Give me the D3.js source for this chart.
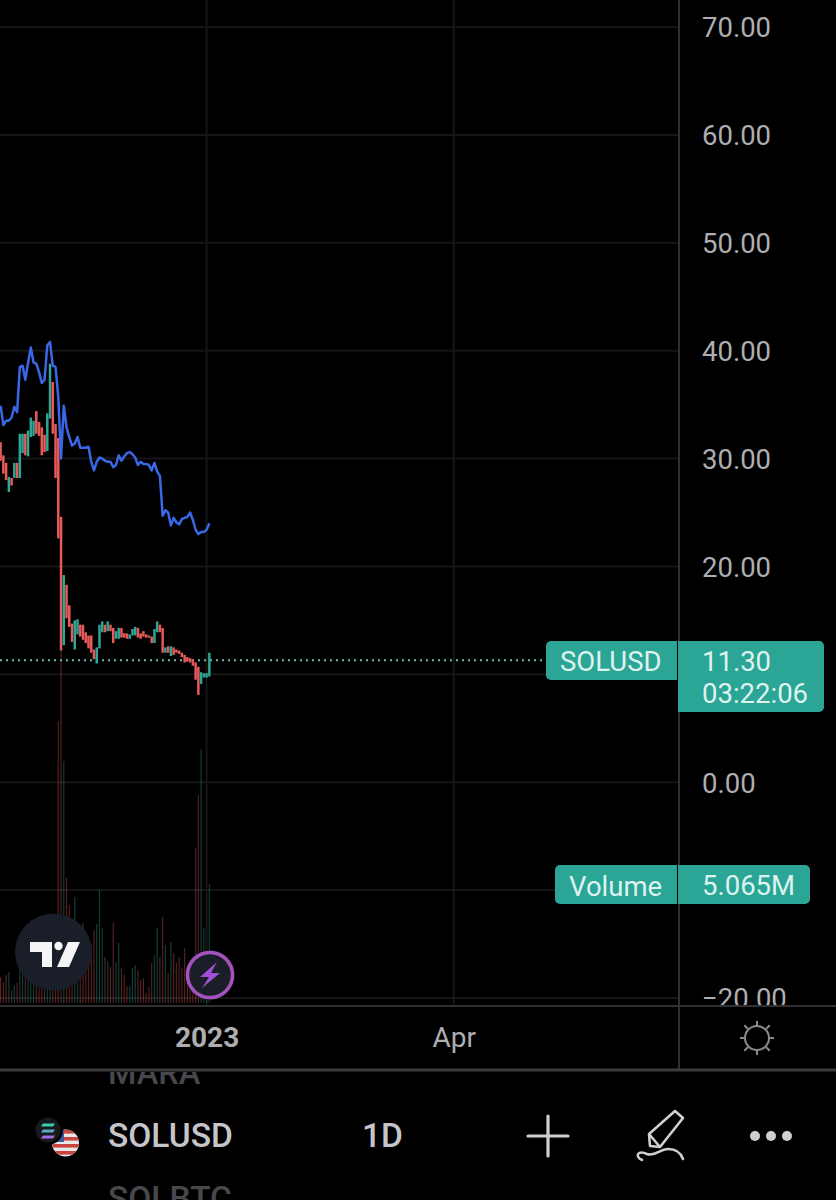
<!DOCTYPE html>
<html><head><meta charset="utf-8">
<script src="https://cdnjs.cloudflare.com/ajax/libs/d3/7.8.5/d3.min.js"></script>
<style>html,body{margin:0;padding:0;background:#000;overflow:hidden}svg{display:block}text{font-family:Roboto,sans-serif}</style>
</head><body>
<svg id="c" width="836" height="1200"></svg>
<script>
const firstDay = "2022-10-18";
const priceTicks = [70,60,50,40,30,20,10,0,-10,-20];
const priceLabels = ["70.00","60.00","50.00","40.00","30.00","20.00",null,"0.00",null,"\u221220.00"];
const timeTicks = ["2023-01-01","2023-04-01"];
const timeLabels = ["2023","Apr"];
const lastPrice = 11.30, lastVolume = 5.065;
const open = [31.5,30.3,29.6,26.9,28.2,28.2,29.6,28.2,30.5,32.3,30.2,32.0,32.1,34.4,33.4,32.9,32.2,30.7,33.7,37.1,33.2,31.9,24.6,
  12.7,18.3,16.4,14.7,12.3,13.7,14.6,14.6,13.9,13.6,13.6,12.3,11.0,12.4,13.9,14.6,14.0,14.6,14.3,13.3,13.3,14.3,13.8,13.8,13.3,13.6,13.6,14.3,13.8,14.0,13.7,13.6,13.5,12.9,13.9,14.6,14.3,12.0,12.6,11.7,12.5,12.3,12.2,12.0,11.8,11.6,11.5,11.4,11.1,10.7,9.1,9.7,9.7,9.8];
const close = [29.8,28.6,28.0,28.3,27.5,29.6,28.2,32.3,32.3,30.3,32.6,33.8,33.5,32.3,32.1,30.3,30.6,34.2,38.8,32.3,28.2,22.6,12.2,
  19.2,15.2,14.4,13.0,15.0,15.1,13.5,13.2,12.9,12.4,12.0,11.4,12.5,14.6,14.9,13.9,14.9,14.0,12.9,14.0,14.3,13.4,13.4,13.3,13.7,14.2,14.4,13.4,13.3,13.5,13.4,13.4,12.9,14.2,14.9,13.9,12.0,12.5,12.0,12.6,11.8,12.0,11.9,11.6,11.1,11.2,11.1,10.8,9.5,8.1,10.2,10.1,10.1,12.0];
const comparison = [34.9,33.1,33.5,33.5,33.8,34.8,34.3,38.5,38.6,37.3,38.9,40.3,38.9,38.8,38.0,37.0,37.3,40.5,40.8,38.6,38.5,35.7,30.0,34.9,32.9,32.0,31.2,31.4,32.0,31.0,31.0,31.0,31.1,29.7,28.9,29.7,30.1,30.0,29.8,29.7,29.7,29.2,29.4,30.3,29.8,30.2,30.5,30.6,30.4,30.1,29.4,29.7,29.5,29.5,29.4,28.9,29.6,28.8,28.4,24.7,25.2,25.0,23.8,24.5,24.1,23.9,24.4,24.5,24.6,25.0,24.3,23.4,23.0,23.2,23.2,23.4,24.0];
const volume = [1.11,.89,1.19,1.32,.55,.77,.85,1.53,1.40,1.19,1.19,.98,1.06,1.19,1.06,1.19,1.32,1.32,1.62,1.83,2.26,12.0,15.0,10.3,5.32,4.17,3.5,4.51,2.9,2.47,3.40,1.83,2.04,2.47,3.11,3.36,4.81,3.19,1.96,1.74,1.53,3.40,1.74,2.55,1.49,1.19,.72,.72,1.49,1.62,1.40,.98,1.06,.43,.68,1.70,2.04,3.19,1.96,3.66,2.47,1.28,2.60,2.13,1.70,1.96,1.49,2.34,1.53,.98,.68,6.60,8.85,10.81,3.19,.85,5.065];

const UP="#2fa596", DOWN="#e85a5a", TEAL="#2aa596", BLUE="#3a67e6", GRID="#161616", RULE="#303032", TXT="#aeaeb2";
const svg=d3.select("#c");
const parse=d3.utcParse("%Y-%m-%d");
const dates=d3.utcDays(parse(firstDay),d3.utcDay.offset(parse(firstDay),open.length));
const x=d3.scaleUtc().domain([parse(timeTicks[0]),parse(timeTicks[1])]).range([206.6,453.8]);
const y=d3.scaleLinear().domain([-20,70]).range([998,27]);
const v=d3.scaleLinear().domain([0,lastVolume]).range([1003,884]);
const defs=svg.append("defs");
defs.append("clipPath").attr("id","pane").append("rect").attr("width",679).attr("height",1005);
defs.append("clipPath").attr("id","axisClip").append("rect").attr("x",680).attr("width",156).attr("height",1005);
defs.append("clipPath").attr("id","listTop").append("rect").attr("y",1072).attr("width",836).attr("height",40);
defs.append("clipPath").attr("id","flag").append("circle").attr("cx",65.5).attr("cy",1143).attr("r",13.5);

const pane=svg.append("g").attr("clip-path","url(#pane)");
pane.append("g").selectAll("line").data(priceTicks).join("line")
  .attr("x1",0).attr("x2",679).attr("y1",d=>y(d)).attr("y2",d=>y(d)).attr("stroke",GRID).attr("stroke-width",2);
pane.append("g").selectAll("line").data(timeTicks).join("line")
  .attr("x1",d=>x(parse(d))).attr("x2",d=>x(parse(d))).attr("y1",0).attr("y2",1005).attr("stroke",GRID).attr("stroke-width",2);

const idx=d3.range(open.length);
pane.append("g").selectAll("line").data(idx).join("line")
  .attr("x1",i=>x(dates[i])).attr("x2",i=>x(dates[i]))
  .attr("y1",i=>v(volume[i])).attr("y2",v(0))
  .attr("stroke",i=>close[i]>=open[i]?UP:DOWN).attr("stroke-opacity",.36).attr("stroke-width",1.2);

pane.append("line").attr("x1",0).attr("x2",546).attr("y1",y(lastPrice)).attr("y2",y(lastPrice))
  .attr("stroke","#6dbdb0").attr("stroke-width",2).attr("stroke-dasharray","2 4");

pane.append("g").selectAll("line").data(idx).join("line")
  .attr("x1",i=>x(dates[i])).attr("x2",i=>x(dates[i]))
  .attr("y1",i=>y(open[i])).attr("y2",i=>y(close[i]))
  .attr("stroke",i=>close[i]>=open[i]?UP:DOWN).attr("stroke-width",2.5);

pane.append("path").attr("d",d3.line().x((d,i)=>x(dates[i])).y(d=>y(d))(comparison))
  .attr("fill","none").attr("stroke",BLUE).attr("stroke-width",2.5).attr("stroke-linejoin","round");

// frame rules
const rules=svg.append("g").attr("stroke",RULE);
rules.append("line").attr("x1",679).attr("x2",679).attr("y1",0).attr("y2",1070).attr("stroke-width",2);
rules.append("line").attr("x1",0).attr("x2",836).attr("y1",1006).attr("y2",1006).attr("stroke-width",2);
rules.append("line").attr("x1",0).attr("x2",836).attr("y1",1070).attr("y2",1070).attr("stroke-width",3).attr("stroke","#3c3c40");

// axes
const labelOf=d3.scaleOrdinal(priceTicks,priceLabels);
const ay=svg.append("g").attr("clip-path","url(#axisClip)")
  .append("g").attr("transform","translate(702,1)")
  .call(d3.axisRight(y).tickValues(priceTicks.filter((d,i)=>priceLabels[i])).tickSize(0).tickPadding(0).tickFormat(d=>labelOf(d)));
ay.select(".domain").remove();
ay.selectAll("text").attr("fill",TXT).attr("font-size",27.5).attr("font-family","Roboto");
const tLab=d3.scaleOrdinal(timeTicks.map(d=>+parse(d)),timeLabels);
const ax=svg.append("g").attr("transform","translate(0,1027)")
  .call(d3.axisBottom(x).tickValues(timeTicks.map(parse)).tickSize(0).tickPadding(0).tickFormat(d=>tLab(+d)));
ax.select(".domain").remove();
ax.selectAll("text").attr("fill",TXT).attr("font-size",28).attr("font-family","Roboto")
  .attr("font-weight",(d,i)=>i==0?700:400);

// tags
function tag(px,py,w,h,rL,rR,fill){
  const p=d3.path();
  p.moveTo(px+rL,py);p.lineTo(px+w-rR,py);p.arcTo(px+w,py,px+w,py+rR,rR);p.lineTo(px+w,py+h-rR);p.arcTo(px+w,py+h,px+w-rR,py+h,rR);
  p.lineTo(px+rL,py+h);p.arcTo(px,py+h,px,py+h-rL,rL);p.lineTo(px,py+rL);p.arcTo(px,py,px+rL,py,rL);p.closePath();
  svg.append("path").attr("d",p.toString()).attr("fill",fill);
}
tag(546,641,131,39,5,0.01,TEAL);
tag(678,641,146,71,0.01,5,TEAL);
tag(555,865,122,39,5,0.01,TEAL);
tag(678,865,132,39,0.01,5,TEAL);
const tt=(s,xx,yy,c="#def3ef",fs=27.5,w=400,a="start")=>svg.append("text").text(s).attr("x",xx).attr("y",yy).attr("fill",c).attr("font-size",fs).attr("font-weight",w).attr("text-anchor",a);
tt("SOLUSD",560,670.5);
tt("11.30",702,670.5);
tt("03:22:06",702,703);
tt("Volume",569,896);
tt("5.065M",702,895);

// TradingView badge
svg.append("circle").attr("cx",53.5).attr("cy",952).attr("r",38.5).attr("fill","#1a1e29");
svg.append("path").attr("d","M30 942H52V967H42V952H30Z M68 942H80L69 967H57Z").attr("fill","#f5f5f5");
svg.append("circle").attr("cx",58.5).attr("cy",946).attr("r",4.2).attr("fill","#f5f5f5");
// bolt badge
svg.append("circle").attr("cx",210).attr("cy",975).attr("r",25).attr("fill","#1b1530");
svg.append("circle").attr("cx",210).attr("cy",975).attr("r",22.5).attr("fill","#1a1e29").attr("stroke","#a652bd").attr("stroke-width",3.5);
svg.append("path").attr("d","M217 962L200 977H209L202 988L220 973H211Z").attr("fill","#a04fd6");

// sun icon
const sun=svg.append("g").attr("transform","translate(757,1038)").attr("stroke","#8a8a8e").attr("stroke-width",2).attr("fill","none");
sun.append("circle").attr("r",12);
d3.range(8).forEach(k=>{const a=k*Math.PI/4;const r1=k%2?13:12,r2=k%2?18:17;
  sun.append("line").attr("x1",r1*Math.cos(a)).attr("y1",r1*Math.sin(a)).attr("x2",r2*Math.cos(a)).attr("y2",r2*Math.sin(a));});

// symbol list
const dim=svg.append("g").attr("clip-path","url(#listTop)");
dim.append("text").text("MARA").attr("x",108).attr("y",1084).attr("fill","#48484c").attr("font-size",32.5).attr("font-weight",500);
tt("SOLUSD",108,1147,"#c6c6ca",33.5,500);
tt("1D",362,1147,"#c6c6ca",33.5,500);
tt("SOLBTC",108,1210,"#48484c",33.5,500);

// flag + coin icon
const fl=svg.append("g").attr("clip-path","url(#flag)");
fl.append("rect").attr("x",50).attr("y",1128).attr("width",32).attr("height",30).attr("fill","#e8e8e8");
fl.selectAll("rect.s").data([0,1,2,3]).join("rect").attr("class","s").attr("x",50).attr("y",k=>1130+k*7).attr("width",32).attr("height",3.6).attr("fill","#c8453f");
fl.append("rect").attr("x",50).attr("y",1128).attr("width",14).attr("height",14).attr("fill","#3c5aa0");
svg.append("circle").attr("cx",48).attr("cy",1130).attr("r",15).attr("fill","#000");
svg.append("circle").attr("cx",48).attr("cy",1130).attr("r",12.5).attr("fill","#17191f");
[["#3fd0b0",1123.5],["#5ea8c8",1129.5],["#a070e0",1135.5]].forEach(([c,yy])=>
  svg.append("path").attr("d",`M${41} ${yy+3}L${43} ${yy}H${55}L${53} ${yy+3}Z`).attr("fill",c));

// toolbar icons
const stroke="#cfcfd3";
svg.append("path").attr("d","M548 1116V1156M528 1136H568").attr("stroke",stroke).attr("stroke-width",3.2).attr("stroke-linecap","round");
svg.append("path").attr("d","M675 1111L683 1118L660 1147L650 1146L649 1134Z M649 1134L660 1147")
  .attr("fill","none").attr("stroke",stroke).attr("stroke-width",2.6).attr("stroke-linejoin","round");
svg.append("path").attr("d","M642 1160C634 1156 638 1150 647 1154C655 1157 660 1149 668 1149C676 1149 681 1153 683 1159")
  .attr("fill","none").attr("stroke",stroke).attr("stroke-width",2.6).attr("stroke-linecap","round");
svg.append("g").selectAll("circle").data([755,771,787]).join("circle").attr("cx",d=>d).attr("cy",1136).attr("r",5).attr("fill",stroke);
</script>
</body></html>
